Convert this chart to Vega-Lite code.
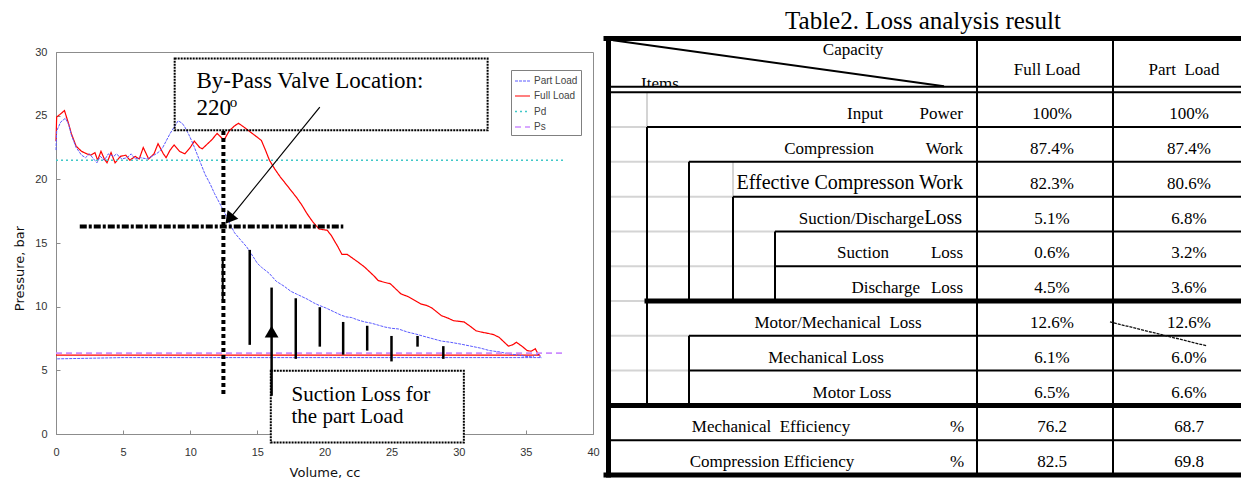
{
"$schema": "https://vega.github.io/schema/vega-lite/v6.json",
"background": "white",
"padding": {"left": 12, "top": 8, "right": 0, "bottom": 0},
"autosize": {"type": "pad"},
"bounds": "flush",
"spacing": 8,
"config": {
 "view": {"stroke": null},
 "legend": {"orient": "none", "legendX": 455, "legendY": 18, "strokeColor": "#808080", "fillColor": "#ffffff", "padding": 3, "labelFont": "Liberation Sans", "labelFontSize": 10, "labelColor": "#444444", "symbolType": "stroke", "symbolSize": 225, "symbolStrokeWidth": 1.5, "rowPadding": 1.5, "labelOffset": 3, "cornerRadius": 0}
},
"datasets": {
 "curves": [
  {"s":"Full Load","i":0,"v":0,"p":23.0},{"s":"Full Load","i":1,"v":0.05,"p":24.9},{"s":"Full Load","i":2,"v":0.3,"p":25.1},{"s":"Full Load","i":3,"v":0.63,"p":25.4},{"s":"Full Load","i":4,"v":0.9,"p":24.5},{"s":"Full Load","i":5,"v":1.14,"p":23.6},{"s":"Full Load","i":6,"v":1.5,"p":22.6},{"s":"Full Load","i":7,"v":1.9,"p":22.2},{"s":"Full Load","i":8,"v":2.3,"p":22.0},{"s":"Full Load","i":9,"v":2.6,"p":21.9},
  {"s":"Full Load","i":10,"v":2.9,"p":22.1},{"s":"Full Load","i":11,"v":3.1,"p":21.5},{"s":"Full Load","i":12,"v":3.35,"p":22.2},{"s":"Full Load","i":13,"v":3.6,"p":21.6},{"s":"Full Load","i":14,"v":3.8,"p":21.3},{"s":"Full Load","i":15,"v":4.1,"p":22.1},{"s":"Full Load","i":16,"v":4.4,"p":21.3},{"s":"Full Load","i":17,"v":4.8,"p":21.8},{"s":"Full Load","i":18,"v":5.2,"p":21.9},{"s":"Full Load","i":19,"v":5.5,"p":21.5},
  {"s":"Full Load","i":20,"v":5.9,"p":21.8},{"s":"Full Load","i":21,"v":6.2,"p":21.6},{"s":"Full Load","i":22,"v":6.5,"p":22.5},{"s":"Full Load","i":23,"v":6.9,"p":21.6},{"s":"Full Load","i":24,"v":7.3,"p":22.0},{"s":"Full Load","i":25,"v":7.6,"p":22.8},{"s":"Full Load","i":26,"v":8.0,"p":22.0},{"s":"Full Load","i":27,"v":8.2,"p":21.7},{"s":"Full Load","i":28,"v":8.5,"p":22.3},{"s":"Full Load","i":29,"v":8.8,"p":22.7},
  {"s":"Full Load","i":30,"v":9.2,"p":22.2},{"s":"Full Load","i":31,"v":9.6,"p":22.0},{"s":"Full Load","i":32,"v":10.0,"p":22.5},{"s":"Full Load","i":33,"v":10.3,"p":23.0},{"s":"Full Load","i":34,"v":10.7,"p":22.5},{"s":"Full Load","i":35,"v":10.9,"p":22.4},{"s":"Full Load","i":36,"v":11.3,"p":22.8},{"s":"Full Load","i":37,"v":11.6,"p":23.1},{"s":"Full Load","i":38,"v":12.0,"p":23.6},{"s":"Full Load","i":39,"v":12.3,"p":23.3},
  {"s":"Full Load","i":40,"v":12.5,"p":23.05},{"s":"Full Load","i":41,"v":12.9,"p":23.8},{"s":"Full Load","i":42,"v":13.3,"p":24.2},{"s":"Full Load","i":43,"v":13.6,"p":24.4},{"s":"Full Load","i":44,"v":14.0,"p":24.1},{"s":"Full Load","i":45,"v":14.5,"p":23.7},{"s":"Full Load","i":46,"v":15.0,"p":23.3},{"s":"Full Load","i":47,"v":15.3,"p":23.05},{"s":"Full Load","i":48,"v":15.6,"p":22.3},{"s":"Full Load","i":49,"v":15.9,"p":21.5},
  {"s":"Full Load","i":50,"v":16.3,"p":20.8},{"s":"Full Load","i":51,"v":16.7,"p":20.2},{"s":"Full Load","i":52,"v":17.3,"p":19.4},{"s":"Full Load","i":53,"v":17.9,"p":18.6},{"s":"Full Load","i":54,"v":18.3,"p":18.0},{"s":"Full Load","i":55,"v":18.7,"p":17.3},{"s":"Full Load","i":56,"v":19.1,"p":16.7},{"s":"Full Load","i":57,"v":19.6,"p":16.1},{"s":"Full Load","i":58,"v":20.2,"p":16.0},{"s":"Full Load","i":59,"v":20.5,"p":15.6},
  {"s":"Full Load","i":60,"v":21.0,"p":14.7},{"s":"Full Load","i":61,"v":21.3,"p":14.1},{"s":"Full Load","i":62,"v":21.7,"p":14.1},{"s":"Full Load","i":63,"v":22.1,"p":13.8},{"s":"Full Load","i":64,"v":22.5,"p":13.5},{"s":"Full Load","i":65,"v":23.0,"p":13.1},{"s":"Full Load","i":66,"v":23.4,"p":12.7},{"s":"Full Load","i":67,"v":23.7,"p":12.4},{"s":"Full Load","i":68,"v":24.0,"p":12.05},{"s":"Full Load","i":69,"v":24.5,"p":11.9},
  {"s":"Full Load","i":70,"v":24.9,"p":11.8},{"s":"Full Load","i":71,"v":25.3,"p":11.4},{"s":"Full Load","i":72,"v":25.7,"p":11.0},{"s":"Full Load","i":73,"v":26.2,"p":10.8},{"s":"Full Load","i":74,"v":26.7,"p":10.5},{"s":"Full Load","i":75,"v":27.2,"p":10.2},{"s":"Full Load","i":76,"v":27.6,"p":10.1},{"s":"Full Load","i":77,"v":28.0,"p":9.9},{"s":"Full Load","i":78,"v":28.7,"p":9.3},{"s":"Full Load","i":79,"v":29.2,"p":9.1},
  {"s":"Full Load","i":80,"v":29.6,"p":8.9},{"s":"Full Load","i":81,"v":30.0,"p":8.85},{"s":"Full Load","i":82,"v":30.4,"p":8.8},{"s":"Full Load","i":83,"v":30.8,"p":8.5},{"s":"Full Load","i":84,"v":31.3,"p":8.1},{"s":"Full Load","i":85,"v":31.7,"p":8.0},{"s":"Full Load","i":86,"v":32.2,"p":7.9},{"s":"Full Load","i":87,"v":32.6,"p":7.8},{"s":"Full Load","i":88,"v":33.0,"p":7.6},{"s":"Full Load","i":89,"v":33.4,"p":7.2},
  {"s":"Full Load","i":90,"v":33.7,"p":6.9},{"s":"Full Load","i":91,"v":34.0,"p":7.0},{"s":"Full Load","i":92,"v":34.3,"p":7.2},{"s":"Full Load","i":93,"v":34.7,"p":6.9},{"s":"Full Load","i":94,"v":35.1,"p":6.55},{"s":"Full Load","i":95,"v":35.4,"p":6.5},{"s":"Full Load","i":96,"v":35.7,"p":6.7},{"s":"Full Load","i":97,"v":35.9,"p":6.3},{"s":"Full Load","i":98,"v":36.0,"p":6.2},{"s":"Full Load","i":99,"v":0,"p":6.2},
  {"s":"Part Load","i":0,"v":0,"p":22.3},{"s":"Part Load","i":1,"v":0.05,"p":23.8},{"s":"Part Load","i":2,"v":0.35,"p":24.5},{"s":"Part Load","i":3,"v":0.7,"p":24.8},{"s":"Part Load","i":4,"v":0.95,"p":24.3},{"s":"Part Load","i":5,"v":1.14,"p":23.5},{"s":"Part Load","i":6,"v":1.5,"p":22.5},{"s":"Part Load","i":7,"v":1.9,"p":21.9},{"s":"Part Load","i":8,"v":2.2,"p":21.7},{"s":"Part Load","i":9,"v":2.5,"p":22.0},
  {"s":"Part Load","i":10,"v":2.8,"p":21.6},{"s":"Part Load","i":11,"v":3.05,"p":21.3},{"s":"Part Load","i":12,"v":3.3,"p":21.8},{"s":"Part Load","i":13,"v":3.6,"p":21.5},{"s":"Part Load","i":14,"v":3.9,"p":22.0},{"s":"Part Load","i":15,"v":4.3,"p":21.8},{"s":"Part Load","i":16,"v":4.5,"p":22.0},{"s":"Part Load","i":17,"v":4.9,"p":21.6},{"s":"Part Load","i":18,"v":5.3,"p":21.7},{"s":"Part Load","i":19,"v":5.6,"p":22.0},
  {"s":"Part Load","i":20,"v":5.9,"p":21.6},{"s":"Part Load","i":21,"v":6.3,"p":21.7},{"s":"Part Load","i":22,"v":6.8,"p":21.6},{"s":"Part Load","i":23,"v":7.3,"p":21.9},{"s":"Part Load","i":24,"v":7.6,"p":22.1},{"s":"Part Load","i":25,"v":7.9,"p":22.4},{"s":"Part Load","i":26,"v":8.2,"p":23.0},{"s":"Part Load","i":27,"v":8.5,"p":23.6},{"s":"Part Load","i":28,"v":8.8,"p":24.1},{"s":"Part Load","i":29,"v":9.1,"p":24.6},
  {"s":"Part Load","i":30,"v":9.4,"p":24.4},{"s":"Part Load","i":31,"v":9.6,"p":24.1},{"s":"Part Load","i":32,"v":9.9,"p":23.5},{"s":"Part Load","i":33,"v":10.2,"p":22.8},{"s":"Part Load","i":34,"v":10.5,"p":22.0},{"s":"Part Load","i":35,"v":10.8,"p":21.2},{"s":"Part Load","i":36,"v":11.1,"p":20.4},{"s":"Part Load","i":37,"v":11.5,"p":19.6},{"s":"Part Load","i":38,"v":11.8,"p":18.9},{"s":"Part Load","i":39,"v":12.2,"p":18.1},
  {"s":"Part Load","i":40,"v":12.5,"p":17.5},{"s":"Part Load","i":41,"v":12.75,"p":17.0},{"s":"Part Load","i":42,"v":13.0,"p":16.4},{"s":"Part Load","i":43,"v":13.3,"p":15.8},{"s":"Part Load","i":44,"v":13.7,"p":15.3},{"s":"Part Load","i":45,"v":14.2,"p":14.7},{"s":"Part Load","i":46,"v":14.7,"p":13.9},{"s":"Part Load","i":47,"v":15.0,"p":13.4},{"s":"Part Load","i":48,"v":15.3,"p":13.1},{"s":"Part Load","i":49,"v":15.9,"p":12.6},
  {"s":"Part Load","i":50,"v":16.4,"p":12.0},{"s":"Part Load","i":51,"v":17.0,"p":11.6},{"s":"Part Load","i":52,"v":17.5,"p":11.2},{"s":"Part Load","i":53,"v":17.9,"p":11.0},{"s":"Part Load","i":54,"v":18.3,"p":10.8},{"s":"Part Load","i":55,"v":18.7,"p":10.6},{"s":"Part Load","i":56,"v":19.2,"p":10.3},{"s":"Part Load","i":57,"v":19.6,"p":10.1},{"s":"Part Load","i":58,"v":20.1,"p":9.9},{"s":"Part Load","i":59,"v":20.7,"p":9.6},
  {"s":"Part Load","i":60,"v":21.2,"p":9.35},{"s":"Part Load","i":61,"v":21.6,"p":9.2},{"s":"Part Load","i":62,"v":22.0,"p":9.15},{"s":"Part Load","i":63,"v":22.5,"p":8.95},{"s":"Part Load","i":64,"v":23.0,"p":8.8},{"s":"Part Load","i":65,"v":23.5,"p":8.7},{"s":"Part Load","i":66,"v":24.0,"p":8.55},{"s":"Part Load","i":67,"v":24.5,"p":8.4},{"s":"Part Load","i":68,"v":25.0,"p":8.3},{"s":"Part Load","i":69,"v":25.5,"p":8.25},
  {"s":"Part Load","i":70,"v":26.2,"p":8.0},{"s":"Part Load","i":71,"v":26.8,"p":7.85},{"s":"Part Load","i":72,"v":27.3,"p":7.7},{"s":"Part Load","i":73,"v":28.0,"p":7.5},{"s":"Part Load","i":74,"v":28.7,"p":7.3},{"s":"Part Load","i":75,"v":29.4,"p":7.2},{"s":"Part Load","i":76,"v":30.2,"p":7.05},{"s":"Part Load","i":77,"v":30.9,"p":6.9},{"s":"Part Load","i":78,"v":31.6,"p":6.75},{"s":"Part Load","i":79,"v":32.3,"p":6.55},
  {"s":"Part Load","i":80,"v":33.0,"p":6.45},{"s":"Part Load","i":81,"v":33.7,"p":6.3},{"s":"Part Load","i":82,"v":34.4,"p":6.2},{"s":"Part Load","i":83,"v":35.0,"p":6.1},{"s":"Part Load","i":84,"v":35.5,"p":6.05},{"s":"Part Load","i":85,"v":35.8,"p":6.3},{"s":"Part Load","i":86,"v":36.15,"p":6.0},{"s":"Part Load","i":87,"v":5.0,"p":6.0},{"s":"Part Load","i":88,"v":0,"p":5.9},
  {"s":"Pd","i":0,"v":0,"p":21.5},{"s":"Pd","i":1,"v":37.9,"p":21.5},
  {"s":"Ps","i":0,"v":0,"p":6.35},{"s":"Ps","i":1,"v":37.7,"p":6.35}
 ],
 "tlines": [
  {"k":"thick","x":5,"x2":641,"y":-1.546,"y2":-1.546},
  {"k":"black","x":10,"x2":641,"y":-0.158,"y2":-0.158},
  {"k":"black","x":10,"x2":641,"y":0,"y2":0},
  {"k":"gray","x":10,"x2":46,"y":1,"y2":1},{"k":"black","x":46,"x2":641,"y":1,"y2":1},
  {"k":"gray","x":10,"x2":88,"y":2,"y2":2},{"k":"black","x":88,"x2":641,"y":2,"y2":2},
  {"k":"gray","x":10,"x2":132,"y":3,"y2":3},{"k":"black","x":132,"x2":641,"y":3,"y2":3},
  {"k":"gray","x":10,"x2":174,"y":4,"y2":4},{"k":"black","x":174,"x2":641,"y":4,"y2":4},
  {"k":"gray","x":10,"x2":174,"y":5,"y2":5},{"k":"black","x":174,"x2":641,"y":5,"y2":5},
  {"k":"gray","x":10,"x2":46,"y":6,"y2":6},{"k":"thick","x":46,"x2":641,"y":6,"y2":6},
  {"k":"gray","x":10,"x2":88,"y":7,"y2":7},{"k":"black","x":88,"x2":641,"y":7,"y2":7},
  {"k":"gray","x":10,"x2":88,"y":8,"y2":8},{"k":"black","x":88,"x2":641,"y":8,"y2":8},
  {"k":"thick","x":10,"x2":641,"y":9,"y2":9},
  {"k":"black","x":10,"x2":641,"y":10,"y2":10},
  {"k":"thick","x":5,"x2":641,"y":11,"y2":11},
  {"k":"thick","x":7.5,"x2":7.5,"y":-1.546,"y2":11},
  {"k":"gray","x":46,"x2":46,"y":0,"y2":1},
  {"k":"black","x":46,"x2":46,"y":1,"y2":9},
  {"k":"black","x":88,"x2":88,"y":2,"y2":6},
  {"k":"black","x":88,"x2":88,"y":7,"y2":9},
  {"k":"gray","x":132,"x2":132,"y":2,"y2":3},
  {"k":"black","x":132,"x2":132,"y":3,"y2":6},
  {"k":"black","x":174,"x2":174,"y":4,"y2":6},
  {"k":"black","x":376,"x2":376,"y":-1.546,"y2":11},
  {"k":"black","x":512,"x2":512,"y":-1.546,"y2":11},
  {"k":"black","x":12,"x2":343,"y":-1.494,"y2":-0.172},
  {"k":"stray","x":509,"x2":606,"y":6.6,"y2":7.29}
 ],
 "ttext": [
  {"g":"head","x":252,"y":-1.078,"t":"Capacity"},
  {"g":"head","x":446,"y":-0.509,"t":"Full Load"},
  {"g":"head","x":583,"y":-0.509,"t":"Part\u00a0 Load"},
  {"g":"lr","x":282,"y":0,"t":"Input"},{"g":"lr","x":362,"y":0,"t":"Power"},
  {"g":"lr","x":273,"y":1,"t":"Compression"},{"g":"lr","x":362,"y":1,"t":"Work"},
  {"g":"big","x":362,"y":2,"t":"Effective Compresson Work"},
  {"g":"lr","x":323,"y":3,"t":"Suction/Discharge"},{"g":"big","x":361,"y":3,"t":"Loss"},
  {"g":"lr","x":288,"y":4,"t":"Suction"},{"g":"lr","x":362,"y":4,"t":"Loss"},
  {"g":"lr","x":319,"y":5,"t":"Discharge"},{"g":"lr","x":362,"y":5,"t":"Loss"},
  {"g":"lc","x":237,"y":6,"t":"Motor/Mechanical\u00a0 Loss"},
  {"g":"lc","x":225,"y":7,"t":"Mechanical Loss"},
  {"g":"lc","x":251,"y":8,"t":"Motor Loss"},
  {"g":"lc","x":170,"y":9,"t":"Mechanical\u00a0 Efficiency"},{"g":"lc","x":356,"y":9,"t":"%"},
  {"g":"lc","x":171,"y":10,"t":"Compression Efficiency"},{"g":"lc","x":356,"y":10,"t":"%"},
  {"g":"val","x":451,"y":0,"t":"100%"},{"g":"val","x":588,"y":0,"t":"100%"},
  {"g":"val","x":451,"y":1,"t":"87.4%"},{"g":"val","x":588,"y":1,"t":"87.4%"},
  {"g":"val","x":451,"y":2,"t":"82.3%"},{"g":"val","x":588,"y":2,"t":"80.6%"},
  {"g":"val","x":451,"y":3,"t":"5.1%"},{"g":"val","x":588,"y":3,"t":"6.8%"},
  {"g":"val","x":451,"y":4,"t":"0.6%"},{"g":"val","x":588,"y":4,"t":"3.2%"},
  {"g":"val","x":451,"y":5,"t":"4.5%"},{"g":"val","x":588,"y":5,"t":"3.6%"},
  {"g":"val","x":451,"y":6,"t":"12.6%"},{"g":"val","x":588,"y":6,"t":"12.6%"},
  {"g":"val","x":451,"y":7,"t":"6.1%"},{"g":"val","x":588,"y":7,"t":"6.0%"},
  {"g":"val","x":451,"y":8,"t":"6.5%"},{"g":"val","x":588,"y":8,"t":"6.6%"},
  {"g":"val","x":451,"y":9,"t":"76.2"},{"g":"val","x":588,"y":9,"t":"68.7"},
  {"g":"val","x":451,"y":10,"t":"82.5"},{"g":"val","x":588,"y":10,"t":"69.8"}
 ]
},
"hconcat": [
 {
  "width": 537, "height": 382,
  "view": {"stroke": "#8c8c8c", "strokeWidth": 1},
  "encoding": {
   "x": {"field": "v", "type": "quantitative", "scale": {"domain": [0, 40], "nice": false, "zero": false},
    "axis": {"title": "Volume, cc", "values": [0,5,10,15,20,25,30,35,40], "grid": false, "labelFlush": false, "domainColor": "#8c8c8c", "tickColor": "#8c8c8c", "tickSize": -4, "labelFont": "Liberation Sans", "labelFontSize": 11, "labelColor": "#333333", "labelPadding": 16, "titleFont": "DejaVu Sans", "titleFontSize": 13, "titleFontWeight": "normal", "titleColor": "#111111", "titleY": 32, "titleBaseline": "top"}},
   "y": {"field": "p", "type": "quantitative", "scale": {"domain": [0, 30], "nice": false, "zero": false},
    "axis": {"title": "Pressure, bar", "values": [0,5,10,15,20,25,30], "grid": false, "domainColor": "#8c8c8c", "tickColor": "#8c8c8c", "tickSize": -4, "labelFont": "Liberation Sans", "labelFontSize": 11, "labelColor": "#333333", "labelPadding": 13, "titleFont": "DejaVu Sans", "titleFontSize": 13, "titleFontWeight": "normal", "titleColor": "#111111", "titleX": -37, "titleY": 216, "titleAngle": -90, "titleAlign": "center", "titleBaseline": "middle"}}
  },
  "layer": [
   {"data": {"name": "curves"}, "mark": {"type": "line"},
    "encoding": {
     "color": {"field": "s", "type": "nominal", "scale": {"domain": ["Part Load","Full Load","Pd","Ps"], "range": ["#5a5aff","#ff0000","#40c8c8","#cc8cff"]}, "legend": {"title": null}},
     "strokeDash": {"field": "s", "type": "nominal", "scale": {"domain": ["Part Load","Full Load","Pd","Ps"], "range": [[3,1],[1,0],[2,3],[6,4]]}, "legend": {"title": null}},
     "strokeWidth": {"field": "s", "type": "ordinal", "scale": {"domain": ["Part Load","Full Load","Pd","Ps"], "range": [1,1.6,2,1.5]}, "legend": null},
     "order": {"field": "i", "type": "quantitative"}
    }},
   {"data": {"values": [{"v": 8.84, "v2": 32.15, "p": 23.85, "p2": 29.48}]},
    "mark": {"type": "rect", "filled": false, "stroke": "#000000", "strokeWidth": 2, "strokeDash": [2,1]},
    "encoding": {"x2": {"field": "v2"}, "y2": {"field": "p2"}}},
   {"data": {"values": [{"v": 16.0, "v2": 30.38, "p": -0.66, "p2": 4.97}]},
    "mark": {"type": "rect", "fill": "#ffffff", "stroke": "#000000", "strokeWidth": 2, "strokeDash": [2,1]},
    "encoding": {"x2": {"field": "v2"}, "y2": {"field": "p2"}}},
   {"data": {"values": [{"v": 12.47, "v2": 12.47, "p": 3.14, "p2": 23.8}]},
    "mark": {"type": "rule", "color": "#000000", "strokeWidth": 4, "strokeDash": [4,3]},
    "encoding": {"x2": {"field": "v2"}, "y2": {"field": "p2"}}},
   {"data": {"values": [{"v": 12.42, "v2": 12.42, "p": 10.5, "p2": 13.9}]},
    "mark": {"type": "rule", "color": "#000000", "strokeWidth": 2},
    "encoding": {"x2": {"field": "v2"}, "y2": {"field": "p2"}}},
   {"data": {"values": [{"v": 1.77, "v2": 21.4, "p": 16.3, "p2": 16.3}]},
    "mark": {"type": "rule", "color": "#000000", "strokeWidth": 4, "strokeDash": [7,2,3,2]},
    "encoding": {"x2": {"field": "v2"}, "y2": {"field": "p2"}}},
   {"data": {"values": [
     {"v": 14.43, "v2": 14.43, "p": 7.0, "p2": 14.46},
     {"v": 16.06, "v2": 16.06, "p": 3.0, "p2": 11.5},
     {"v": 17.86, "v2": 17.86, "p": 5.9, "p2": 10.66},
     {"v": 19.65, "v2": 19.65, "p": 6.86, "p2": 9.96},
     {"v": 21.39, "v2": 21.39, "p": 6.23, "p2": 8.8},
     {"v": 23.18, "v2": 23.18, "p": 6.55, "p2": 8.5},
     {"v": 24.99, "v2": 24.99, "p": 5.7, "p2": 7.7},
     {"v": 26.93, "v2": 26.93, "p": 6.86, "p2": 7.7},
     {"v": 28.85, "v2": 28.85, "p": 5.9, "p2": 6.9}]},
    "mark": {"type": "rule", "color": "#000000", "strokeWidth": 2.5},
    "encoding": {"x2": {"field": "v2"}, "y2": {"field": "p2"}}},
   {"data": {"values": [{"v": 19.65, "v2": 12.9, "p": 25.68, "p2": 16.88}]},
    "mark": {"type": "rule", "color": "#000000", "strokeWidth": 1.2},
    "encoding": {"x2": {"field": "v2"}, "y2": {"field": "p2"}}},
   {"data": {"values": [{"v": 12.9, "p": 16.88}]},
    "mark": {"type": "point", "shape": "triangle-up", "filled": true, "color": "#000000", "opacity": 1, "size": 190, "angle": 219}},
   {"data": {"values": [{"v": 16.06, "p": 8.04}]},
    "mark": {"type": "point", "shape": "triangle-up", "filled": true, "color": "#000000", "opacity": 1, "size": 190, "angle": 0}},
   {"data": {"values": [{"v": 10.46, "p": 27.2, "t": "By-Pass Valve Location:"}, {"v": 10.46, "p": 25.02, "t": "220"}]},
    "mark": {"type": "text", "font": "Liberation Serif", "fontSize": 23, "align": "left", "baseline": "alphabetic", "color": "#000000"},
    "encoding": {"text": {"field": "t"}}},
   {"data": {"values": [{"v": 12.95, "p": 25.65, "t": "o"}]},
    "mark": {"type": "text", "font": "Liberation Serif", "fontSize": 15, "align": "left", "baseline": "alphabetic", "color": "#000000"},
    "encoding": {"text": {"field": "t"}}},
   {"data": {"values": [{"v": 17.54, "p": 2.62, "t": "Suction Loss for"}, {"v": 17.54, "p": 0.83, "t": "the part Load"}]},
    "mark": {"type": "text", "font": "Liberation Serif", "fontSize": 21, "align": "left", "baseline": "alphabetic", "color": "#000000"},
    "encoding": {"text": {"field": "t"}}}
  ]
 },
 {
  "width": 641, "height": 423,
  "encoding": {
   "x": {"field": "x", "type": "quantitative", "scale": {"domain": [0, 641], "nice": false, "zero": false}, "axis": null},
   "y": {"field": "y", "type": "quantitative", "scale": {"domain": [-1.158, 11], "nice": false, "zero": false, "reverse": true}, "axis": null}
  },
  "layer": [
   {"data": {"values": [{"x": 40, "y": -0.1, "t": "Items"}]},
    "mark": {"type": "text", "font": "Liberation Serif", "fontSize": 17, "align": "left", "baseline": "alphabetic", "color": "#000000"},
    "encoding": {"text": {"field": "t"}}},
   {"data": {"values": [{"x": 10, "x2": 641, "y": -0.158, "y2": 0}]},
    "mark": {"type": "rect", "fill": "#ffffff"},
    "encoding": {"x2": {"field": "x2"}, "y2": {"field": "y2"}}},
   {"data": {"name": "tlines"}, "transform": [{"filter": "datum.k === 'gray'"}],
    "mark": {"type": "rule", "color": "#d4d4d4", "strokeWidth": 2},
    "encoding": {"x2": {"field": "x2"}, "y2": {"field": "y2"}}},
   {"data": {"name": "tlines"}, "transform": [{"filter": "datum.k === 'black'"}],
    "mark": {"type": "rule", "color": "#000000", "strokeWidth": 2},
    "encoding": {"x2": {"field": "x2"}, "y2": {"field": "y2"}}},
   {"data": {"name": "tlines"}, "transform": [{"filter": "datum.k === 'thick'"}],
    "mark": {"type": "rule", "color": "#000000", "strokeWidth": 5, "strokeCap": "square"},
    "encoding": {"x2": {"field": "x2"}, "y2": {"field": "y2"}}},
   {"data": {"name": "tlines"}, "transform": [{"filter": "datum.k === 'stray'"}],
    "mark": {"type": "rule", "color": "#111111", "strokeWidth": 1.3, "strokeDash": [3,1]},
    "encoding": {"x2": {"field": "x2"}, "y2": {"field": "y2"}}},
   {"data": {"values": [{"x": 322, "y": -1.82, "t": "Table2. Loss analysis result"}]},
    "mark": {"type": "text", "font": "Liberation Serif", "fontSize": 25, "align": "center", "baseline": "alphabetic", "color": "#000000"},
    "encoding": {"text": {"field": "t"}}},
   {"data": {"name": "ttext"}, "transform": [{"filter": "datum.g === 'head'"}],
    "mark": {"type": "text", "font": "Liberation Serif", "fontSize": 17, "align": "center", "baseline": "alphabetic", "color": "#000000"},
    "encoding": {"text": {"field": "t"}}},
   {"data": {"name": "ttext"}, "transform": [{"filter": "datum.g === 'lr'"}],
    "mark": {"type": "text", "font": "Liberation Serif", "fontSize": 17, "align": "right", "baseline": "alphabetic", "dy": 27, "color": "#000000"},
    "encoding": {"text": {"field": "t"}}},
   {"data": {"name": "ttext"}, "transform": [{"filter": "datum.g === 'big'"}],
    "mark": {"type": "text", "font": "Liberation Serif", "fontSize": 20, "align": "right", "baseline": "alphabetic", "dy": 27, "color": "#000000"},
    "encoding": {"text": {"field": "t"}}},
   {"data": {"name": "ttext"}, "transform": [{"filter": "datum.g === 'lc' || datum.g === 'val'"}],
    "mark": {"type": "text", "font": "Liberation Serif", "fontSize": 17, "align": "center", "baseline": "alphabetic", "dy": 27, "color": "#000000"},
    "encoding": {"text": {"field": "t"}}}
  ]
 }
]
}
